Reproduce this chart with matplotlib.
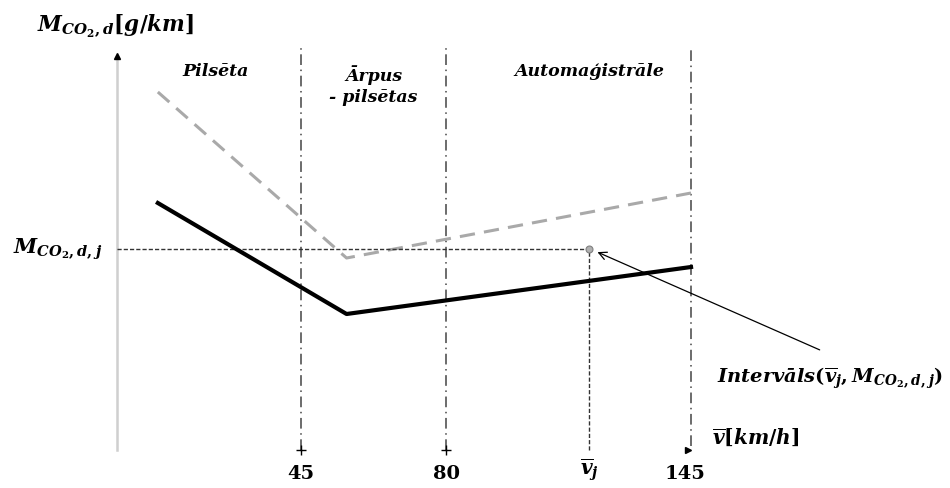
import numpy as np
import matplotlib
matplotlib.use("Agg")
import matplotlib.pyplot as plt

plt.rcParams["mathtext.fontset"] = "custom"
plt.rcParams["mathtext.it"] = "DejaVu Serif:italic:bold"
plt.rcParams["mathtext.rm"] = "DejaVu Serif:bold"
plt.rcParams["mathtext.bf"] = "DejaVu Serif:bold"

# speed zone boundaries [km/h] and the chosen speed v_j
zone_bounds = [45, 80, 145]
zone_names = ["Pilsēta", "Ārpus\n- pilsētas", "Automaģistrāle"]
v_j = 118

# CO2 emission curves (schematic, g/km)
speed_pts = [10, 56, 145]
co2_solid = [123.5, 68, 91.5]
co2_dashed = [179, 96, 128.5]
m_j = 100.5

# the speed axis is schematic: zones are not drawn to a linear scale
knots_v = np.array([-100, 0, 45, 80, 145, 300])
knots_p = np.array([-408.9, 0, 184, 329, 574, 1158.2])

def fwd(v):
    return np.interp(v, knots_v, knots_p)

def inv(p):
    return np.interp(p, knots_p, knots_v)

fig = plt.figure(figsize=(9.5, 4.88), dpi=100)
ax = fig.add_axes([0, 0, 1, 1])
ax.set_xscale("function", functions=(fwd, inv))
ax.set_xlim(-28.6, 213.7)
ax.set_ylim(-19, 225)
ax.axis("off")

# y axis
ax.plot([0, 0], [0, 196], color="#cfcfcf", lw=1.8, zorder=1)
ax.plot([0], [197], marker="^", ms=5, color="black", zorder=2)

# zone boundaries
for b in zone_bounds:
    ax.plot([b, b], [2 if b == 145 else 0, 201.5], color="#444444", lw=1.1,
            linestyle=(0, (7, 3, 1, 3)), zorder=1)
for b in zone_bounds[:2]:
    ax.plot([b], [0], marker="+", ms=7, mew=1.0, color="black")
ax.plot([144.2], [0], marker=">", ms=5, color="black")

# curves
ax.plot(speed_pts, co2_dashed, color="#a9a9a9", lw=2.2, linestyle=(0, (5, 3)), zorder=2)
ax.plot(speed_pts, co2_solid, color="black", lw=3.0, zorder=3)

# guide lines to the chosen point
ax.plot([0, v_j], [m_j, m_j], color="#333333", lw=1.0, linestyle=(0, (3, 1.5)), zorder=2)
ax.plot([v_j, v_j], [0, m_j], color="#333333", lw=1.0, linestyle=(0, (3, 1.5)), zorder=2)
ax.plot([v_j], [m_j], marker="o", ms=5, mfc="#b0b0b0", mec="#808080", mew=0.8, zorder=4)

ax.annotate("", xy=(v_j + 1.5, m_j - 1), xytext=(179.8, 49.5),
            arrowprops=dict(arrowstyle="->", color="black", lw=0.9,
                            mutation_scale=14))

# labels
tick_kw = dict(fontsize=14, ha="center", va="center", family="DejaVu Serif", weight="bold")
ax.text(45, -12, "45", **tick_kw)
ax.text(80, -12, "80", **tick_kw)
ax.text(143.4, -12, "145", **tick_kw)
ax.text(v_j, -10, r"$\overline{v}_j$", fontsize=14.5, ha="center", va="center")

ax.text(-19.5, 212, r"$M_{CO_2,d}[g/km]$", fontsize=15.5, ha="left", va="center")
ax.text(-25.5, 100.5, r"$M_{CO_2,d,j}$", fontsize=15, ha="left", va="center")
ax.text(150.5, 6.5, r"$\overline{v}[km/h]$", fontsize=14.5, ha="left", va="center")
ax.text(152, 36, r"$Intervāls(\overline{v}_j, M_{CO_2,d,j})$", fontsize=14,
        ha="left", va="center")

zone_kw = dict(fontsize=12.5, family="DejaVu Serif", weight="bold", style="italic")
ax.text(24, 189, zone_names[0], ha="center", va="center", **zone_kw)
ax.text(62.5, 182, zone_names[1], ha="center", va="center", linespacing=1.3, **zone_kw)
ax.text(118, 189, zone_names[2], ha="center", va="center", **zone_kw)

fig.savefig("out.png", dpi=100)
